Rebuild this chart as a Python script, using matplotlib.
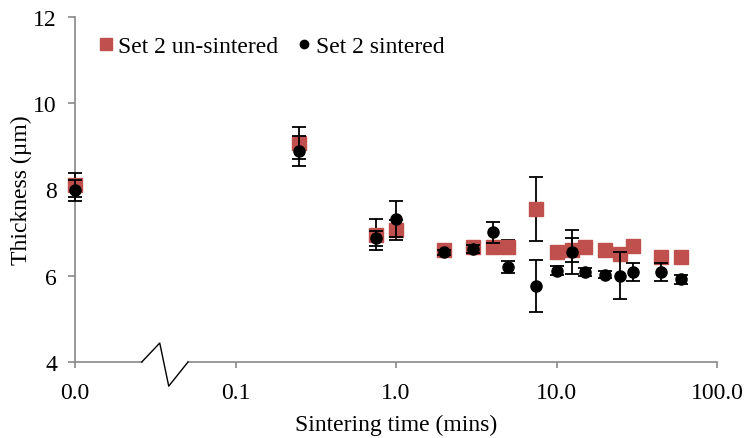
import matplotlib

matplotlib.use("Agg")
import matplotlib.pyplot as plt
from matplotlib.lines import Line2D

# Sintering time in minutes; 0 is drawn at the "0.0" position (0.01 on the log axis)
time_min = [0, 0.25, 0.75, 1, 2, 3, 4, 5, 7.5, 10, 12.5, 15, 20, 25, 30, 45, 60]
unsintered = [8.10, 9.08, 6.95, 7.07, 6.60, 6.67, 6.67, 6.67, 7.55, 6.54,
              6.60, 6.66, 6.60, 6.50, 6.70, 6.43, 6.44]
unsintered_err = [0.28, 0.38, 0.36, 0.23, 0.05, 0.05, 0.10, 0.17, 0.74, 0.05,
                  0.27, 0.05, 0.05, 0.10, 0.05, 0.10, 0.05]
sintered = [7.98, 8.89, 6.87, 7.32, 6.54, 6.62, 7.01, 6.20, 5.77, 6.12,
            6.56, 6.09, 6.02, 6.00, 6.08, 6.08, 5.92]
sintered_err = [0.25, 0.34, 0.17, 0.42, 0.05, 0.09, 0.24, 0.14, 0.60, 0.10,
                0.51, 0.10, 0.08, 0.54, 0.21, 0.21, 0.10]
x_ticks = [0.01, 0.1, 1, 10, 100]
x_labels = ["0.0", "0.1", "1.0", "10.0", "100.0"]
y_ticks = [4, 6, 8, 10, 12]

RED = "#c0504d"
AXIS = "#898989"
FS = 17

plt.rcParams["font.family"] = ["Liberation Serif", "DejaVu Serif"]

fig = plt.figure(figsize=(7.45, 4.39), dpi=100)
ax = fig.add_axes([75 / 745, 76 / 439, 642 / 745, 345 / 439])

xpos = [t if t > 0 else 0.01 for t in time_min]

red = ax.errorbar(xpos, unsintered, yerr=unsintered_err, fmt="s", color=RED,
                  markersize=9.5, ecolor="black", elinewidth=1.3, capsize=5,
                  capthick=1.3, zorder=2)
blk = ax.errorbar(xpos, sintered, yerr=sintered_err, fmt="o", color="black",
                  markersize=8, ecolor="black", elinewidth=1.3, capsize=5,
                  capthick=1.3, zorder=3)
for container in (red, blk):
    for artist in container.get_children():
        artist.set_clip_on(False)

ax.set_xscale("log")
ax.set_xlim(0.01, 100)
ax.set_ylim(4, 12)
ax.set_xticks(x_ticks)
ax.set_xticklabels(x_labels)
ax.minorticks_off()
ax.set_yticks(y_ticks)

for side in ["top", "right", "bottom"]:
    ax.spines[side].set_visible(False)
ax.spines["left"].set_color(AXIS)
ax.spines["left"].set_linewidth(1.2)
ax.spines["left"].set_zorder(1)
ax.tick_params(axis="both", colors=AXIS, labelcolor="black", labelsize=FS,
               width=1.2)
ax.tick_params(axis="y", length=5, pad=8)
ax.tick_params(axis="x", length=4.5, pad=10)

# bottom axis with a break between 0.0 and 0.1
ax.plot([0, 0.104], [0, 0], color=AXIS, lw=1.2, transform=ax.transAxes,
        clip_on=False, zorder=1)
ax.plot([0.176, 1], [0, 0], color=AXIS, lw=1.2, transform=ax.transAxes,
        clip_on=False, zorder=1)
ax.plot([0.104, 0.132, 0.146, 0.176], [0, 0.055, -0.070, 0], color="black",
        lw=1.0, transform=ax.transAxes, clip_on=False, zorder=1)

ax.set_xlabel("Sintering time (mins)", fontsize=FS, labelpad=8)
ax.set_ylabel("Thickness (\u00b5m)", fontsize=FS, labelpad=1)

handles = [
    Line2D([], [], marker="s", color=RED, linestyle="none", markersize=8),
    Line2D([], [], marker="o", color="black", linestyle="none", markersize=6),
]
ax.legend(handles, ["Set 2 un-sintered", "Set 2 sintered"], loc="upper left",
          bbox_to_anchor=(0.008, 1.0), ncol=2, frameon=False, fontsize=FS,
          handlelength=0.6, handletextpad=0.2, columnspacing=0.8,
          borderpad=0.3)

fig.savefig("out.png", dpi=100)
